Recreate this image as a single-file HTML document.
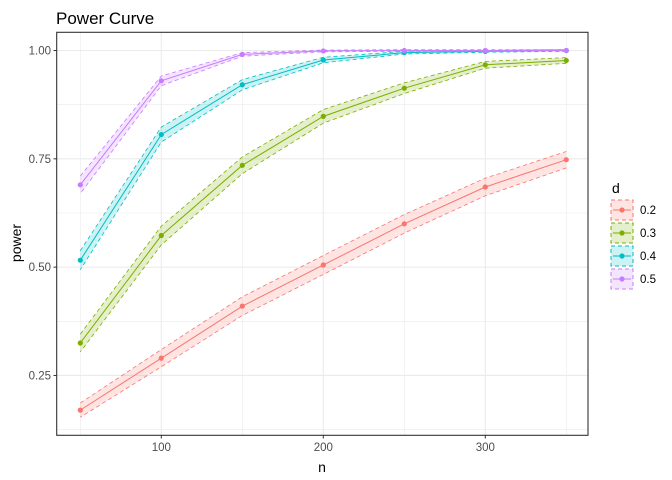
<!DOCTYPE html>
<html><head><style>body{margin:0;background:#fff}svg{display:block;font-family:"Liberation Sans",sans-serif}</style></head>
<body>
<svg id="s" width="672" height="480" xmlns="http://www.w3.org/2000/svg">
<rect width="672" height="480" fill="#fff"/>
<text x="56" y="24" font-size="17" fill="#000">Power Curve</text>
<g id="grid"></g>
<g id="data"></g>
<rect x="56.7" y="32.3" width="531.3" height="403" fill="none" stroke="#333" stroke-width="1.1"/>
<g id="ticks" font-size="11.5" fill="#4d4d4d"></g>
<text x="322" y="472" font-size="14" text-anchor="middle">n</text>
<text transform="translate(21,243) rotate(-90)" font-size="14" text-anchor="middle">power</text>
<text x="612" y="193" font-size="14">d</text>
<g id="leg" font-size="11.5"></g>
</svg>
<script>
const X=n=>80.3+(n-50)*1.62, Y=v=>50.5+(1-v)*433.3;
const ns=[50,100,150,200,250,300,350];
const D=[[.17,.29,.41,.505,.60,.685,.748],[.325,.573,.735,.848,.913,.967,.977],[.516,.806,.921,.978,.995,.998,1.0],[.69,.93,.991,.999,1,1,1]];
const C=["#F8766D","#7CAE00","#00BFC4","#C77CFF"];
let g="";
[.125,.375,.625,.875].forEach(v=>g+=`<line x1="56.7" x2="588" y1="${Y(v)}" y2="${Y(v)}" stroke="#ebebeb" stroke-width="0.6"/>`);
[50,150,250,350].forEach(v=>g+=`<line y1="32.3" y2="435.3" x1="${X(v)}" x2="${X(v)}" stroke="#ebebeb" stroke-width="0.6"/>`);
[.25,.5,.75,1].forEach(v=>g+=`<line x1="56.7" x2="588" y1="${Y(v)}" y2="${Y(v)}" stroke="#ebebeb" stroke-width="1.1"/>`);
[100,200,300].forEach(v=>g+=`<line y1="32.3" y2="435.3" x1="${X(v)}" x2="${X(v)}" stroke="#ebebeb" stroke-width="1.1"/>`);
document.getElementById("grid").innerHTML=g;
let d="";
D.forEach((a,i)=>{
 const w=a.map(p=>Math.max(1.96*Math.sqrt(p*(1-p)/2000),0.002));
 const up=ns.map((n,j)=>`${X(n)},${Y(a[j]+w[j])}`), lo=ns.map((n,j)=>`${X(n)},${Y(a[j]-w[j])}`);
 d+=`<polygon points="${up.join(" ")} ${lo.reverse().join(" ")}" fill="${C[i]}" fill-opacity="0.2"/>`;
 d+=`<polyline points="${up.join(" ")}" fill="none" stroke="${C[i]}" stroke-width="0.8" stroke-dasharray="4,3"/>`;
 d+=`<polyline points="${lo.join(" ")}" fill="none" stroke="${C[i]}" stroke-width="0.8" stroke-dasharray="4,3"/>`;
 d+=`<polyline points="${ns.map((n,j)=>X(n)+","+Y(a[j])).join(" ")}" fill="none" stroke="${C[i]}" stroke-width="1"/>`;
 ns.forEach((n,j)=>d+=`<circle cx="${X(n)}" cy="${Y(a[j])}" r="2.6" fill="${C[i]}"/>`);
});
document.getElementById("data").innerHTML=d;
let t="";
[[.25,"0.25"],[.5,"0.50"],[.75,"0.75"],[1,"1.00"]].forEach(([v,l])=>{t+=`<line x1="53.5" x2="56.7" y1="${Y(v)}" y2="${Y(v)}" stroke="#333"/><text x="51" y="${Y(v)+4}" text-anchor="end">${l}</text>`});
[100,200,300].forEach(v=>{t+=`<line y1="435.3" y2="438.5" x1="${X(v)}" x2="${X(v)}" stroke="#333"/><text x="${X(v)}" y="451" text-anchor="middle">${v}</text>`});
document.getElementById("ticks").innerHTML=t;
let l="";
["0.2","0.3","0.4","0.5"].forEach((s,i)=>{const y=200+i*23;
 l+=`<rect x="611" y="${y}" width="22" height="20" fill="${C[i]}" fill-opacity="0.2" stroke="${C[i]}" stroke-dasharray="4,3"/>`;
 l+=`<line x1="613" x2="631" y1="${y+10}" y2="${y+10}" stroke="${C[i]}"/><circle cx="622" cy="${y+10}" r="2.6" fill="${C[i]}"/>`;
 l+=`<text x="640" y="${y+14}">${s}</text>`;});
document.getElementById("leg").innerHTML=l;
</script>
</body></html>
